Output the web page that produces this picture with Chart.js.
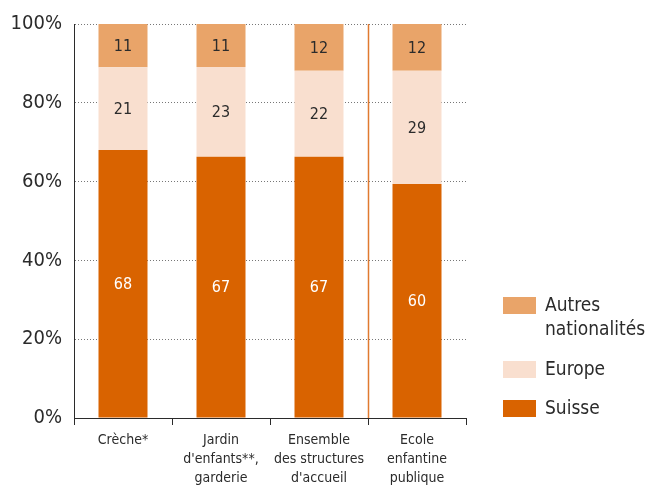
<!DOCTYPE html>
<html>
<head>
<meta charset="utf-8">
<script src="https://cdn.jsdelivr.net/npm/chart.js@4"></script>
<style>
  html, body { margin:0; padding:0; background:#fff; }
  #wrap { width:645px; height:488px; position:relative; }
</style>
</head>
<body>
<div id="wrap"><canvas id="chart" width="645" height="488"></canvas></div>
<script>
var categories = [['Crèche*'], ['Jardin', "d'enfants**,", 'garderie'], ['Ensemble', 'des structures', "d'accueil"], ['Ecole', 'enfantine', 'publique']];
var suisse = [68, 67, 67, 60];
var europe = [21, 23, 22, 29];
var autres = [11, 11, 12, 12];
var yTicks = [0, 20, 40, 60, 80, 100];

var FONT = "'DejaVu Sans Condensed', 'Liberation Sans', sans-serif";
var TEXT = '#2b2b2b';
var colors = { suisse:'#d96300', europe:'#f9dfcf', autres:'#e9a469' };

// the printed labels are rounded, bars fill 100%
var totals = suisse.map(function(v, i){ return v + europe[i] + autres[i]; });
function share(arr){ return arr.map(function(v, i){ return v / totals[i] * 100; }); }

var labelPlugin = {
  id: 'labels',
  afterDatasetsDraw: function(chart){
    var ctx = chart.ctx;
    ctx.save();
    ctx.font = '16px ' + FONT;
    ctx.textAlign = 'center';
    ctx.textBaseline = 'middle';
    chart.data.datasets.forEach(function(ds, di){
      chart.getDatasetMeta(di).data.forEach(function(bar, i){
        var c = bar.getCenterPoint();
        ctx.fillStyle = ds.labelColor;
        ctx.fillText(ds.raw[i], c.x, c.y + 1);
      });
    });
    // separator before the public school
    var xs = chart.scales.x, a = chart.chartArea;
    var sx = Math.round((xs.getPixelForValue(2) + xs.getPixelForValue(3)) / 2) + 0.5;
    ctx.strokeStyle = '#e07a30';
    ctx.lineWidth = 1.5;
    ctx.beginPath(); ctx.moveTo(sx, a.top); ctx.lineTo(sx, a.bottom); ctx.stroke();

    // legend
    var items = [
      { c: colors.autres, t: ['Autres', 'nationalités'], y: 306 },
      { c: colors.europe, t: ['Europe'], y: 370 },
      { c: colors.suisse, t: ['Suisse'], y: 409 }
    ];
    ctx.font = '19px ' + FONT;
    ctx.textAlign = 'left';
    items.forEach(function(it){
      ctx.fillStyle = it.c;
      ctx.fillRect(503, it.y - 9, 33, 17);
      ctx.fillStyle = TEXT;
      it.t.forEach(function(line, k){ ctx.fillText(line, 545, it.y + k * 24); });
    });
    ctx.restore();
  }
};

new Chart(document.getElementById('chart'), {
  type: 'bar',
  data: {
    labels: categories,
    datasets: [
      { label:'Suisse', data: share(suisse), raw: suisse, backgroundColor: colors.suisse, labelColor:'#ffffff' },
      { label:'Europe', data: share(europe), raw: europe, backgroundColor: colors.europe, labelColor: TEXT },
      { label:'Autres nationalités', data: share(autres), raw: autres, backgroundColor: colors.autres, labelColor: TEXT }
    ]
  },
  options: {
    responsive: false,
    animation: false,
    layout: { padding: { left: 0, right: 179, top: 6, bottom: 0 } },
    datasets: { bar: { categoryPercentage: 1, barPercentage: 0.5 } },
    plugins: { legend: { display:false }, tooltip: { enabled:false } },
    scales: {
      x: {
        stacked: true,
        afterFit: function(s){ s.height = 70; },
        border: { color: TEXT, width:1 },
        grid: { display:true, drawOnChartArea:false, offset:true, tickLength:7, color: TEXT },
        ticks: { color: TEXT, font:{ family: FONT, size:14, lineHeight:1.35 }, padding:6,
                 maxRotation:0, autoSkip:false }
      },
      y: {
        stacked: true,
        min: 0, max: 100,
        afterFit: function(s){ s.width = 74; },
        afterBuildTicks: function(s){ s.ticks = yTicks.map(function(v){ return { value: v }; }); },
        border: { color: TEXT, width:1, dash:[1,2] },
        grid: { color:'#777777', lineWidth:1, drawTicks:false },
        ticks: { color: TEXT, font:{ family: FONT, size:20 }, padding:12,
                 callback: function(v){ return v + '%'; } }
      }
    }
  },
  plugins: [labelPlugin]
});
</script>
</body>
</html>
